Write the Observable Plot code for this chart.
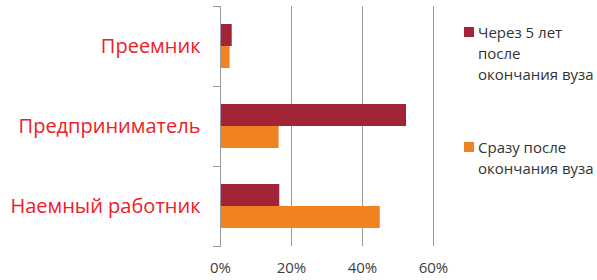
<!DOCTYPE html>
<html><head><meta charset="utf-8">
<script src="https://cdn.jsdelivr.net/npm/d3@7"></script>
<script src="https://cdn.jsdelivr.net/npm/@observablehq/plot@0.6"></script>
<style>
body{margin:0;background:#fff;font-family:"Open Sans",sans-serif;}
#wrap{position:relative;width:597px;height:280px;}
#legend{position:absolute;left:464px;top:0;font-size:15px;color:#333;line-height:21px;}
.item{position:absolute;left:0;width:140px;display:flex;}
.sw{width:10px;height:10px;margin-top:5px;margin-right:4px;flex:none;}
</style></head>
<body><div id="wrap"><div id="legend"></div></div>
<script>
const categories = ["Преемник", "Предприниматель", "Наемный работник"];
const seriesNames = ["Через 5 лет после окончания вуза", "Сразу после окончания вуза"];
const seriesColors = ["#a22537", "#f08222"];
const after5 = [0.033, 0.524, 0.167];
const rightAfter = [0.027, 0.165, 0.45];
const xTicks = [0, 0.2, 0.4, 0.6];

const data = [];
categories.forEach((c, i) => {
  data.push({cat: c, series: seriesNames[0], value: after5[i]});
  data.push({cat: c, series: seriesNames[1], value: rightAfter[i]});
});

const chart = Plot.plot({
  width: 597, height: 280,
  marginLeft: 220, marginRight: 164, marginTop: 5, marginBottom: 33,
  style: {fontFamily: "Open Sans, sans-serif", background: "#fff"},
  x: {domain: [0, 0.6], ticks: xTicks, tickFormat: d3.format(".0%"), label: null, tickSize: 0, tickPadding: 16, fontSize: 15},
  fy: {domain: categories, padding: 0, label: null},
  y: {domain: seriesNames, paddingInner: 0, paddingOuter: 0.76, axis: null},
  color: {domain: seriesNames, range: seriesColors},
  marks: [
    Plot.gridX(xTicks.slice(1), {stroke: "#9a9a9a", strokeOpacity: 1, strokeWidth: 1}),
    Plot.barX(data, {x: "value", y: "series", fy: "cat", fill: "series"}),
    Plot.ruleX([0], {stroke: "#9a9a9a"}),
    Plot.frame({anchor: "top", insetLeft: -7, insetRight: 213, stroke: "#9a9a9a"}),
    Plot.frame({anchor: "bottom", insetLeft: -7, insetRight: 213, stroke: "#9a9a9a"}),
    Plot.axisFy({anchor: "left", tickSize: 0, tickPadding: 20, fontSize: 20, fill: "#ee2028", label: null}),
    Plot.axisX({ticks: xTicks, tickFormat: d3.format(".0%"), tickSize: 0, tickPadding: 16, fontSize: 15, fill: "#404040", label: null})
  ]
});
document.getElementById("wrap").prepend(chart);
d3.select(chart).selectAll("[aria-label='x-axis tick label'] text, [aria-label='x-axis tick label']").attr("fill", "#404040");

const legendLines = [["Через 5 лет", "после", "окончания вуза"], ["Сразу после", "окончания вуза"]];
const legendTops = [22, 137];
const lg = document.getElementById("legend");
legendLines.forEach((lines, i) => {
  const it = document.createElement("div");
  it.className = "item";
  it.style.top = legendTops[i] + "px";
  it.innerHTML = `<div class="sw" style="background:${seriesColors[i]}"></div><div>${lines.join("<br>")}</div>`;
  lg.appendChild(it);
});
</script></body></html>
